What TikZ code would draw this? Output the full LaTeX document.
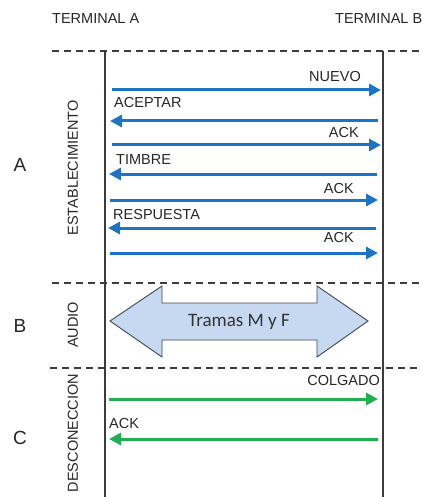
\documentclass[tikz,border=0pt]{standalone}
\usepackage{fontspec}
\setmainfont{Liberation Sans}
\newfontfamily\calib{Carlito}
\usetikzlibrary{arrows.meta}
\definecolor{msgblue}{RGB}{30,116,196}
\definecolor{msggreen}{RGB}{30,176,80}
\definecolor{bodyfill}{RGB}{198,217,241}
\definecolor{bodyedge}{RGB}{60,72,86}
\definecolor{linegray}{RGB}{60,60,60}
\begin{document}
\begin{tikzpicture}[x=1pt,y=-1pt,
  lbl/.style={font=\fontsize{14.5}{16}\selectfont, inner sep=0pt, text=black!85},
  big/.style={font=\fontsize{19}{21}\selectfont, inner sep=0pt, text=black!85},
  phase/.style={font=\fontsize{14.5}{16}\selectfont, inner sep=0pt, rotate=90, text=black!85},
  sep/.style={draw=linegray, line width=1.4pt, dash pattern=on 7pt off 5pt},
  life/.style={draw=linegray, line width=1.5pt},
  msgb/.style={draw=msgblue, line width=3pt, -{Triangle[length=12pt,width=12pt]}},
  msgg/.style={draw=msggreen, line width=3pt, -{Triangle[length=12pt,width=12pt]}}]
\useasboundingbox (0,0) rectangle (421,497);
\clip (0,0) rectangle (421,497);

% headers
\node[lbl, anchor=west] (ta) at (52,19) {TERMINAL A};
\node[lbl, anchor=west] (tb) at (335,19) {TERMINAL B};

% separators
\coordinate (s1l) at (52,51);  \coordinate (s1r) at (421,51);
\coordinate (s2l) at (52,283); \coordinate (s2r) at (421,283);
\coordinate (s3l) at (50,368); \coordinate (s3r) at (421,368);
\draw[sep] (s1l) -- (s1r);
\draw[sep] (s2l) -- (s2r);
\draw[sep] (s3l) -- (s3r);

% lifelines
\coordinate (la) at (105,51); \coordinate (lae) at (105,497);
\coordinate (lb) at (383,51); \coordinate (lbe) at (383,497);
\draw[life] (la) -- (lae);
\draw[life] (lb) -- (lbe);

% phase labels
\node[big] (pa) at (20,165) {A};
\node[big] (pb) at (20,326) {B};
\node[big] (pc) at (20,438) {C};
\node[phase] (ea) at (73,168) {ESTABLECIMIENTO};
\node[phase] (eb) at (73,325) {AUDIO};
\node[phase] (ec) at (73,433) {DESCONECCION};

% establishment messages
\coordinate (m1a) at (112,90);  \coordinate (m1b) at (381,90);
\coordinate (m2a) at (110,121); \coordinate (m2b) at (378,121);
\coordinate (m3a) at (112,145); \coordinate (m3b) at (381,145);
\coordinate (m4a) at (109,174); \coordinate (m4b) at (377,174);
\coordinate (m5a) at (110,200); \coordinate (m5b) at (378,200);
\coordinate (m6a) at (108,228); \coordinate (m6b) at (376,228);
\coordinate (m7a) at (110,253); \coordinate (m7b) at (378,253);
\draw[msgb] (m1a) -- (m1b);
\draw[msgb] (m2b) -- (m2a);
\draw[msgb] (m3a) -- (m3b);
\draw[msgb] (m4b) -- (m4a);
\draw[msgb] (m5a) -- (m5b);
\draw[msgb] (m6b) -- (m6a);
\draw[msgb] (m7a) -- (m7b);
\node[lbl, anchor=east] (n1) at (361,77) {NUEVO};
\node[lbl, anchor=west] (n2) at (114,103) {ACEPTAR};
\node[lbl, anchor=east] (n3) at (359,133) {ACK};
\node[lbl, anchor=west] (n4) at (116,160) {TIMBRE};
\node[lbl, anchor=east] (n5) at (354,189) {ACK};
\node[lbl, anchor=west] (n6) at (113,215) {RESPUESTA};
\node[lbl, anchor=east] (n7) at (354,238) {ACK};

% audio double arrow
\draw[draw=bodyedge, fill=bodyfill, line width=0.9pt]
  (110,321) -- (162,286) -- (162,303) -- (317,303) -- (317,286) -- (368,321)
  -- (317,357) -- (317,340) -- (162,340) -- (162,357) -- cycle;
\node[font=\calib\fontsize{19}{21}\selectfont, text=black!80, inner sep=0pt] (tr) at (239,322) {Tramas M y F};

% disconnection messages
\coordinate (c1a) at (109,399); \coordinate (c1b) at (378,399);
\coordinate (c2a) at (109,439); \coordinate (c2b) at (378,439);
\draw[msgg] (c1a) -- (c1b);
\draw[msgg] (c2b) -- (c2a);
\node[lbl, anchor=east] (g1) at (380,381) {COLGADO};
\node[lbl, anchor=west] (g2) at (109,424) {ACK};
\end{tikzpicture}
\end{document}
